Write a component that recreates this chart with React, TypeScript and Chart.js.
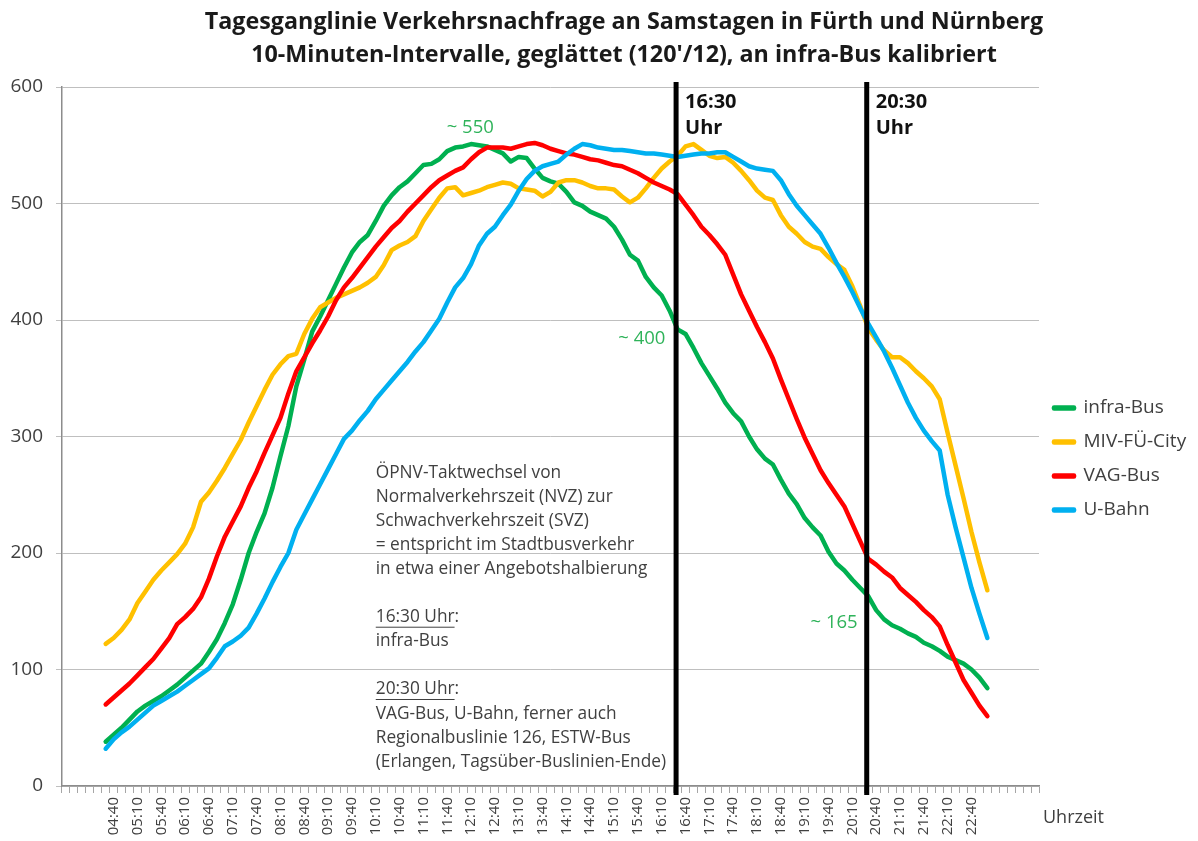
import React, { useEffect, useRef } from 'react';
import { Chart, registerables } from 'chart.js';

Chart.register(...registerables);

const FONT = '"Open Sans", "Noto Sans", sans-serif';

const titleLines = [
  'Tagesganglinie Verkehrsnachfrage an Samstagen in Fürth und Nürnberg',
  "10-Minuten-Intervalle, geglättet (120'/12), an infra-Bus kalibriert",
];

// 10-minute categories of the x axis (03:40 … 24:00)
const axisStartMinutes = 3 * 60 + 40;
const axisCategoryCount = 123;
const categories: string[] = Array.from({ length: axisCategoryCount }, (_, i) => {
  const m = axisStartMinutes + i * 10;
  const h = Math.floor(m / 60);
  const mm = m % 60;
  return `${String(h).padStart(2, '0')}:${String(mm).padStart(2, '0')}`;
});

// labelled ticks
const tickLabels = [
  '04:40', '05:10', '05:40', '06:10', '06:40', '07:10', '07:40', '08:10', '08:40', '09:10',
  '09:40', '10:10', '10:40', '11:10', '11:40', '12:10', '12:40', '13:10', '13:40', '14:10',
  '14:40', '15:10', '15:40', '16:10', '16:40', '17:10', '17:40', '18:10', '18:40', '19:10',
  '19:40', '20:10', '20:40', '21:10', '21:40', '22:10', '22:40',
];

// data run from 04:30 to 23:00 (112 intervals)
const firstDataTime = '04:30';

const infraBus = [
  38, 44, 50, 57, 64, 69, 73, 77, 82, 87, 93, 99, 105, 115, 126, 140, 156, 177, 200, 218,
  234, 256, 283, 309, 343, 366, 390, 403, 417, 431, 445, 458, 467, 473, 485, 498, 507, 514, 519, 526,
  533, 534, 538, 545, 548, 549, 551, 550, 549, 546, 543, 536, 540, 539, 530, 522, 519, 517, 510, 501,
  498, 493, 490, 487, 480, 469, 456, 451, 437, 428, 421, 408, 392, 388, 376, 363, 352, 341, 329, 320,
  313, 300, 289, 281, 276, 263, 251, 242, 230, 222, 215, 201, 191, 185, 177, 170, 163, 151, 143, 138,
  135, 131, 128, 123, 120, 116, 111, 108, 105, 100, 93, 84,
];

const mivFueCity = [
  122, 127, 134, 143, 157, 167, 177, 185, 192, 199, 208, 222, 244, 252, 262, 273, 285, 297, 312, 326,
  340, 353, 362, 369, 371, 388, 401, 411, 415, 419, 422, 425, 428, 432, 437, 447, 460, 464, 467, 472,
  485, 495, 505, 513, 514, 507, 509, 511, 514, 516, 518, 517, 513, 512, 511, 506, 510, 518, 520, 520,
  518, 515, 513, 513, 512, 506, 501, 505, 513, 522, 530, 536, 541, 549, 551, 546, 541, 539, 540, 535,
  528, 520, 511, 505, 503, 490, 480, 474, 467, 463, 461, 454, 448, 443, 429, 412, 393, 383, 374, 368,
  368, 363, 356, 350, 343, 332, 303, 275, 247, 218, 192, 168,
];

const vagBus = [
  70, 76, 82, 88, 95, 102, 109, 118, 127, 139, 145, 152, 162, 178, 197, 214, 227, 240, 256, 270,
  286, 301, 316, 337, 356, 368, 380, 391, 403, 417, 428, 436, 445, 454, 463, 471, 479, 485, 493, 500,
  507, 514, 520, 524, 528, 531, 538, 544, 548, 548, 548, 547, 549, 551, 552, 550, 547, 545, 543, 542,
  540, 538, 537, 535, 533, 532, 529, 526, 522, 518, 515, 512, 508, 499, 490, 480, 473, 465, 456, 439,
  422, 408, 394, 381, 367, 349, 332, 315, 299, 285, 271, 260, 250, 240, 225, 210, 195, 190, 184, 179,
  170, 164, 158, 151, 145, 137, 121, 106, 91, 80, 69, 60,
];

const uBahn = [
  32, 40, 46, 51, 57, 63, 69, 73, 77, 81, 86, 91, 96, 101, 110, 120, 124, 129, 136, 148,
  161, 175, 188, 200, 220, 233, 246, 259, 272, 285, 298, 305, 314, 322, 332, 340, 348, 356, 364, 373,
  381, 391, 401, 415, 428, 436, 448, 464, 474, 480, 490, 499, 511, 521, 528, 532, 534, 536, 542, 547,
  551, 550, 548, 547, 546, 546, 545, 544, 543, 543, 542, 541, 540, 541, 542, 543, 543, 544, 544, 540,
  536, 532, 530, 529, 528, 520, 508, 498, 490, 482, 474, 462, 449, 437, 424, 410, 397, 385, 373, 359,
  344, 329, 316, 305, 296, 288, 250, 222, 196, 170, 148, 127,
];

const seriesNames = ['infra-Bus', 'MIV-FÜ-City', 'VAG-Bus', 'U-Bahn'];
const seriesColors = ['#00b050', '#ffc000', '#ff0000', '#00b0f0'];
const seriesValues = [infraBus, mivFueCity, vagBus, uBahn];

const markerTimes = ['16:30', '20:30'];

const noteLines = [
  'ÖPNV-Taktwechsel von',
  'Normalverkehrszeit (NVZ) zur',
  'Schwachverkehrszeit (SVZ)',
  '= entspricht im Stadtbusverkehr',
  'in etwa einer Angebotshalbierung',
  '',
  '16:30 Uhr:',
  'infra-Bus',
  '',
  '20:30 Uhr:',
  'VAG-Bus, U-Bahn, ferner auch',
  'Regionalbuslinie 126, ESTW-Bus',
  '(Erlangen, Tagsüber-Buslinien-Ende)',
];

const levelLabels = [
  { text: '~ 550', idx: 50.9, value: 565 },
  { text: '~ 400', idx: 72.5, value: 384 },
  { text: '~ 165', idx: 96.7, value: 140 },
];

const legendWidthPlugin = {
  id: 'legendWidth',
  beforeLayout(chart: any) {
    const lg = chart.legend;
    if (lg && !lg.__patched) {
      const orig = lg.fit.bind(lg);
      lg.fit = function () {
        orig();
        this.width = 159;
      };
      lg.__patched = true;
    }
  },
};

const overlayPlugin = {
  id: 'overlay',
  afterDraw(chart: any) {
    const { ctx, scales, chartArea } = chart;
    const xs = scales.x;
    const ys = scales.y;
    ctx.save();

    // title
    ctx.fillStyle = '#1a1a1a';
    ctx.font = `bold 23.3px ${FONT}`;
    ctx.textAlign = 'center';
    ctx.textBaseline = 'middle';
    titleLines.forEach((t, i) => ctx.fillText(t, 624, 22 + i * 33));

    // vertical change-over lines with labels
    markerTimes.forEach((t) => {
      const px = xs.getPixelForValue(categories.indexOf(t)) - 1.5;
      ctx.beginPath();
      ctx.strokeStyle = '#000000';
      ctx.lineWidth = 5;
      ctx.moveTo(px, ys.getPixelForValue(600) - 5);
      ctx.lineTo(px, chartArea.bottom + 9);
      ctx.stroke();
      ctx.fillStyle = '#111111';
      ctx.font = `bold 20px ${FONT}`;
      ctx.textAlign = 'left';
      ctx.textBaseline = 'middle';
      ctx.fillText(t, px + 9, chartArea.top + 15);
      ctx.fillText('Uhr', px + 9, chartArea.top + 41);
    });

    // level labels in green
    ctx.font = `18.5px ${FONT}`;
    ctx.fillStyle = '#2fb35a';
    ctx.textAlign = 'center';
    ctx.textBaseline = 'middle';
    levelLabels.forEach((l) => {
      ctx.fillText(l.text, xs.getPixelForValue(l.idx), ys.getPixelForValue(l.value));
    });

    // explanatory note
    ctx.font = `17.3px ${FONT}`;
    ctx.fillStyle = '#404040';
    ctx.textAlign = 'left';
    ctx.textBaseline = 'middle';
    const nx = xs.getPixelForValue(categories.indexOf('10:10'));
    const ny = ys.getPixelForValue(269);
    noteLines.forEach((line, i) => {
      const ly = ny + i * 24.1;
      ctx.fillText(line, nx, ly);
      if (line.endsWith('Uhr:')) {
        const w = ctx.measureText(line.slice(0, -1)).width;
        ctx.beginPath();
        ctx.strokeStyle = '#404040';
        ctx.lineWidth = 1;
        ctx.moveTo(nx, ly + 10);
        ctx.lineTo(nx + w, ly + 10);
        ctx.stroke();
      }
    });

    // axis name
    ctx.font = `18px ${FONT}`;
    ctx.fillStyle = '#404040';
    ctx.textAlign = 'left';
    ctx.fillText('Uhrzeit', chartArea.right + 4, chartArea.bottom + 32);

    ctx.restore();
  },
};

export default function App() {
  const ref = useRef<HTMLCanvasElement | null>(null);

  useEffect(() => {
    document.body.style.margin = '0';
    const canvas = ref.current;
    if (!canvas) return;
    const startIdx = categories.indexOf(firstDataTime);
    const datasets = seriesValues.map((vals, s) => ({
      label: seriesNames[s],
      data: vals.map((v, i) => ({ x: categories[startIdx + i], y: v })),
      borderColor: seriesColors[s],
      backgroundColor: seriesColors[s],
      borderWidth: 4.5,
      pointRadius: 0,
      tension: 0,
      borderCapStyle: 'round',
      borderJoinStyle: 'round',
      order: 4 - s,
    }));

    const chart = new Chart(canvas, {
      type: 'line',
      data: { labels: categories, datasets: datasets as any },
      options: {
        responsive: false,
        animation: false,
        devicePixelRatio: 1,
        layout: { padding: { left: 0, right: 0, top: 87, bottom: 0 } },
        plugins: {
          title: { display: false },
          legend: {
            position: 'right',
            align: 'center',
            fullSize: false,
            title: { display: true, text: '', padding: 0, font: { size: 10, lineHeight: '45px' } },
            labels: {
              boxWidth: 20,
              boxHeight: 1,
              padding: 15,
              color: '#404040',
              font: { family: FONT, size: 19 },
              sort: (a: any, b: any) => a.datasetIndex - b.datasetIndex,
            },
          },
          tooltip: { enabled: false },
        },
        scales: {
          x: {
            type: 'category',
            offset: true,
            grid: {
              display: true,
              drawOnChartArea: false,
              drawTicks: true,
              tickLength: 7,
              color: '#a6a6a6',
              offset: true,
            },
            border: { display: true, color: '#8c8c8c', width: 1.5 },
            ticks: {
              autoSkip: false,
              maxRotation: 90,
              minRotation: 90,
              padding: 4,
              color: '#404040',
              font: { family: FONT, size: 15 },
              callback: (_v: any, index: number) => {
                const l = categories[index];
                return tickLabels.includes(l) ? l : '';
              },
            },
            afterFit: (s: any) => {
              s.height = 55;
            },
          },
          y: {
            min: 0,
            max: 600,
            ticks: { stepSize: 100, padding: 13, color: '#404040', font: { family: FONT, size: 19 } },
            grid: { color: '#bfbfbf', lineWidth: 1, tickLength: 6, drawTicks: true },
            border: { color: '#8c8c8c', width: 1.5 },
            afterFit: (s: any) => {
              s.width = 62;
            },
          },
        },
      } as any,
      plugins: [legendWidthPlugin, overlayPlugin],
    });
    return () => chart.destroy();
  }, []);

  return (
    <canvas
      ref={ref}
      width={1198}
      height={841}
      style={{ display: 'block', width: '1198px', height: '841px' }}
    />
  );
}
